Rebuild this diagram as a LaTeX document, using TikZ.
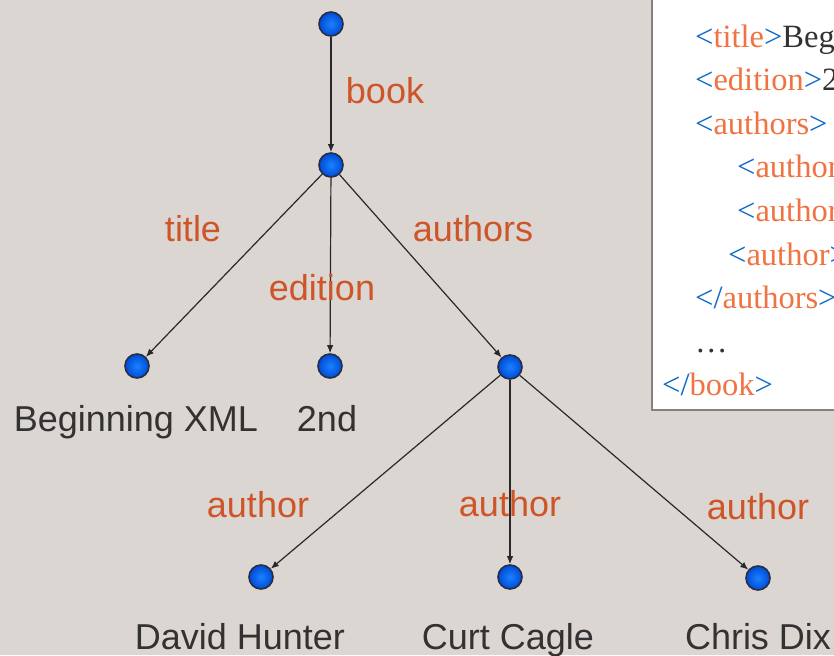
\documentclass[tikz,border=0pt]{standalone}
\usepackage{fontspec}
\setmainfont{Liberation Sans}
\newfontfamily\codefont{Liberation Serif}
\usetikzlibrary{arrows.meta}
\definecolor{BgGray}{RGB}{220,214,211}
\definecolor{LabelRed}{RGB}{205,85,40}
\definecolor{BallBlue}{RGB}{0,75,215}
\definecolor{BallLight}{RGB}{25,130,255}
\definecolor{BallEdge}{RGB}{40,45,65}
\definecolor{TagBlue}{RGB}{15,105,200}
\definecolor{TagOrange}{RGB}{240,115,65}
\definecolor{TextGray}{RGB}{50,50,50}
\definecolor{EdgeGray}{RGB}{40,40,40}
\definecolor{BoxGray}{RGB}{135,128,126}
\newcommand{\otag}[1]{\textcolor{TagBlue}{<}\textcolor{TagOrange}{#1}\textcolor{TagBlue}{>}}
\newcommand{\ctag}[1]{\textcolor{TagBlue}{</}\textcolor{TagOrange}{#1}\textcolor{TagBlue}{>}}
\begin{document}
\begin{tikzpicture}[x=1pt,y=-1pt,
  ball/.style={circle,inner sep=0pt,minimum size=24pt,draw=BallEdge,line width=1.6pt,
    inner color=BallLight,outer color=BallBlue},
  edge/.style={draw=EdgeGray,line width=1.2pt,-{Latex[length=8pt,width=6.5pt]}},
  lbl/.style={anchor=base,inner sep=0pt,text=LabelRed,font=\fontsize{36}{40}\selectfont},
  leaf/.style={anchor=base,inner sep=0pt,text=TextGray,font=\fontsize{36}{40}\selectfont},
  code/.style={anchor=base west,inner sep=0pt,text=TextGray,font=\codefont\fontsize{32.5}{36}\selectfont}]
  \fill[BgGray] (0,0) rectangle (834,655);
  \useasboundingbox (0,0) rectangle (834,655);
  \clip (0,0) rectangle (834,655);

  % xml listing
  \draw[BoxGray,line width=1.8pt,fill=white] (652,-10) rectangle (850,410);
  \node[code] (line0) at (662,-2) {\otag{book}};
  \foreach \i/\x/\txt in {1/695/{\otag{title}Beginning XML\ctag{title}},
      2/695/{\otag{edition}2nd\ctag{edition}},
      3/695/{\otag{authors}},
      4/737/{\otag{author}David Hunter\ctag{author}},
      5/737/{\otag{author}Curt Cagle\ctag{author}},
      6/728/{\otag{author}Chris Dix\ctag{author}},
      7/695/{\ctag{authors}},
      8/695/{…},
      9/662/{\ctag{book}}}{%
    \node[code] (line\i) at (\x,{4+43.5*\i}) {\txt};
  }

  % tree
  \node[ball] (root)    at (331,24)  {};
  \node[ball] (book)    at (331,165) {};
  \node[ball] (title)   at (137,366) {};
  \node[ball] (edition) at (330,366) {};
  \node[ball] (authors) at (510,367) {};
  \node[ball] (hunter)  at (261,577) {};
  \node[ball] (cagle)   at (510,577) {};
  \node[ball] (dix)     at (758,578) {};

  \draw[edge] (root) -- (book);
  \foreach \c in {title,edition,authors}{%
    \draw[edge] (book) -- (\c);
  }
  \foreach \c in {hunter,cagle,dix}{%
    \draw[edge] (authors) -- (\c);
  }

  \node[lbl] (lbook)    at (385,104) {book};
  \node[lbl] (ltitle)   at (193,241) {title};
  \node[lbl] (ledition) at (322,300) {edition};
  \node[lbl] (lauthors) at (473,241) {authors};
  \node[lbl] (lhunter)  at (258,517) {author};
  \node[lbl] (lcagle)   at (510,516) {author};
  \node[lbl] (ldix)     at (758,519) {author};

  \node[leaf] (ttitle)   at (136,431) {Beginning XML};
  \node[leaf] (tedition) at (327,431) {2nd};
  \node[leaf] (thunter)  at (240,649) {David Hunter};
  \node[leaf] (tcagle)   at (508,649) {Curt Cagle};
  \node[leaf] (tdix)     at (758,649) {Chris Dix};
\end{tikzpicture}
\end{document}
